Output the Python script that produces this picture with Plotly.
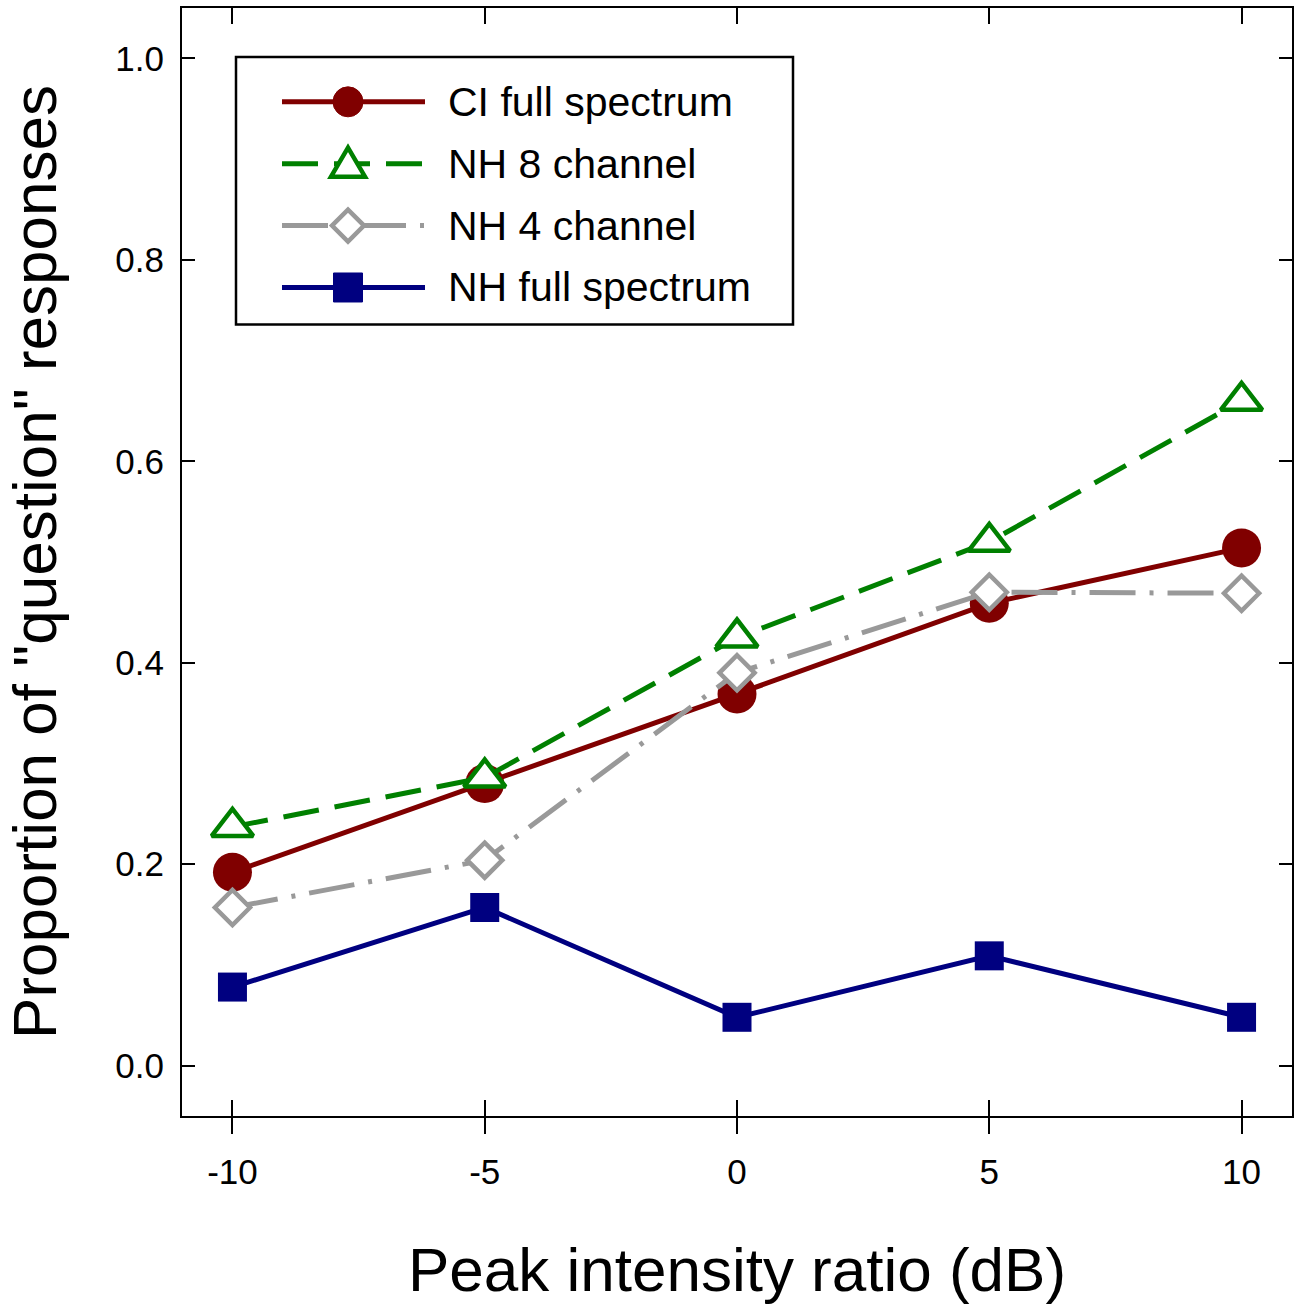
import plotly.graph_objects as go

# ---- data ----
x_db = [-10, -5, 0, 5, 10]
ci_full = [0.192, 0.280, 0.369, 0.459, 0.514]
nh_8ch = [0.237, 0.286, 0.425, 0.520, 0.660]
nh_4ch = [0.157, 0.204, 0.390, 0.470, 0.469]
nh_full = [0.078, 0.157, 0.048, 0.109, 0.048]

series_names = ["CI full spectrum", "NH 8 channel", "NH 4 channel", "NH full spectrum"]
x_ticks = [-10, -5, 0, 5, 10]
x_tick_text = ["-10", "-5", "0", "5", "10"]
y_ticks = [0.0, 0.2, 0.4, 0.6, 0.8, 1.0]
y_tick_text = ["0.0", "0.2", "0.4", "0.6", "0.8", "1.0"]

FONT = "Liberation Sans, Arial, sans-serif"
RED = "#800000"
GREEN = "#008000"
GREY = "#999999"
NAVY = "#000080"
DASH8 = "36px,16px"
DASH4 = "46px,14px,4px,14px"

W, H = 1301, 1310
L, R, T, B = 182, 1292, 6, 1116

fig = go.Figure()
fig.add_trace(go.Scatter(x=x_db, y=ci_full, mode="lines+markers", name=series_names[0],
                         line=dict(color=RED, width=5),
                         marker=dict(symbol="circle", size=39, color=RED)))
fig.add_trace(go.Scatter(x=x_db, y=nh_full, mode="lines+markers", name=series_names[3],
                         line=dict(color=NAVY, width=5),
                         marker=dict(symbol="square", size=29, color=NAVY)))
fig.add_trace(go.Scatter(x=x_db, y=nh_4ch, mode="lines+markers", name=series_names[2],
                         line=dict(color=GREY, width=5, dash=DASH4),
                         marker=dict(symbol="diamond", size=27, color="white",
                                     line=dict(color=GREY, width=4.5))))
# drawn on the overlaying x-axis (same range) so it sits on top and the cross ticks render
fig.add_trace(go.Scatter(x=x_db, y=nh_8ch, mode="lines+markers", name=series_names[1],
                         xaxis="x2", yaxis="y",
                         line=dict(color=GREEN, width=5, dash=DASH8),
                         marker=dict(symbol="triangle-up", size=36, color="white",
                                     line=dict(color=GREEN, width=4.5))))


def px(xp):
    return (xp - L) / (R - L)


def py(yp):
    return (B - yp) / (B - T)


# ---- custom legend (box, lines, glyphs, text) ----
shapes = []
annotations = []
shapes.append(dict(type="rect", xref="paper", yref="paper",
                   x0=px(236), x1=px(793), y0=py(323), y1=py(55),
                   line=dict(color="black", width=2.5), fillcolor="white", layer="above"))
rows = [100, 162, 224, 286]
leg_specs = [
    (series_names[0], RED, None, "circle"),
    (series_names[1], GREEN, DASH8, "triangle"),
    (series_names[2], GREY, DASH4, "diamond"),
    (series_names[3], NAVY, None, "square"),
]
for (name, col, dash, sym), ry in zip(leg_specs, rows):
    ln = dict(color=col, width=5)
    if dash:
        ln["dash"] = dash
    shapes.append(dict(type="line", xref="paper", yref="paper",
                       x0=px(282), x1=px(425), y0=py(ry), y1=py(ry), line=ln, layer="above"))
    base = dict(xref="paper", yref="paper", xsizemode="pixel", ysizemode="pixel",
                xanchor=px(348), yanchor=py(ry), layer="above")
    if sym == "circle":
        shapes.append(dict(type="circle", x0=-15, x1=15, y0=-15, y1=15,
                           fillcolor=col, line=dict(color=col, width=1), **base))
    elif sym == "square":
        shapes.append(dict(type="rect", x0=-14.5, x1=14.5, y0=-14.5, y1=14.5,
                           fillcolor=col, line=dict(color=col, width=1), **base))
    elif sym == "triangle":
        shapes.append(dict(type="path", path="M-17,-13 L17,-13 L0,16 Z",
                           fillcolor="white", line=dict(color=col, width=4.5), **base))
    elif sym == "diamond":
        shapes.append(dict(type="path", path="M-16,0 L0,16 L16,0 L0,-16 Z",
                           fillcolor="white", line=dict(color=col, width=4.5), **base))
    annotations.append(dict(xref="paper", yref="paper", x=px(446), y=py(ry),
                            xanchor="left", yanchor="middle", showarrow=False,
                            text=name, font=dict(family=FONT, size=41, color="black")))

axis_common = dict(showgrid=False, zeroline=False, showline=True, linecolor="black",
                   linewidth=2, tickcolor="black", tickwidth=2)

fig.update_layout(
    width=W, height=H,
    margin=dict(l=L, r=W - R, t=T, b=H - B, pad=0),
    paper_bgcolor="white", plot_bgcolor="white",
    showlegend=False,
    font=dict(family=FONT, color="black"),
    xaxis=dict(range=[-11, 11], tickvals=x_ticks, ticktext=x_tick_text,
               ticks="outside", ticklen=16,
               mirror=True, tickfont=dict(size=35), ticklabelstandoff=8,
               title=dict(text="Peak intensity ratio (dB)", font=dict(size=62), standoff=58),
               **axis_common),
    xaxis2=dict(range=[-11, 11], tickvals=x_ticks, ticks="inside", ticklen=16,
                overlaying="x", anchor="y", side="bottom", mirror="ticks",
                showticklabels=False, **axis_common),
    yaxis=dict(range=[-0.05, 1.05], tickvals=y_ticks, ticktext=y_tick_text,
               ticks="inside", ticklen=13, mirror="ticks", tickfont=dict(size=35),
               ticklabelstandoff=9,
               title=dict(text='Proportion of "question" responses', font=dict(size=62), standoff=39),
               **axis_common),
    shapes=shapes,
    annotations=annotations,
)

fig.write_html("out.html", config={"displayModeBar": False},
               post_script="document.body.style.margin='0';document.body.style.padding='0';")
